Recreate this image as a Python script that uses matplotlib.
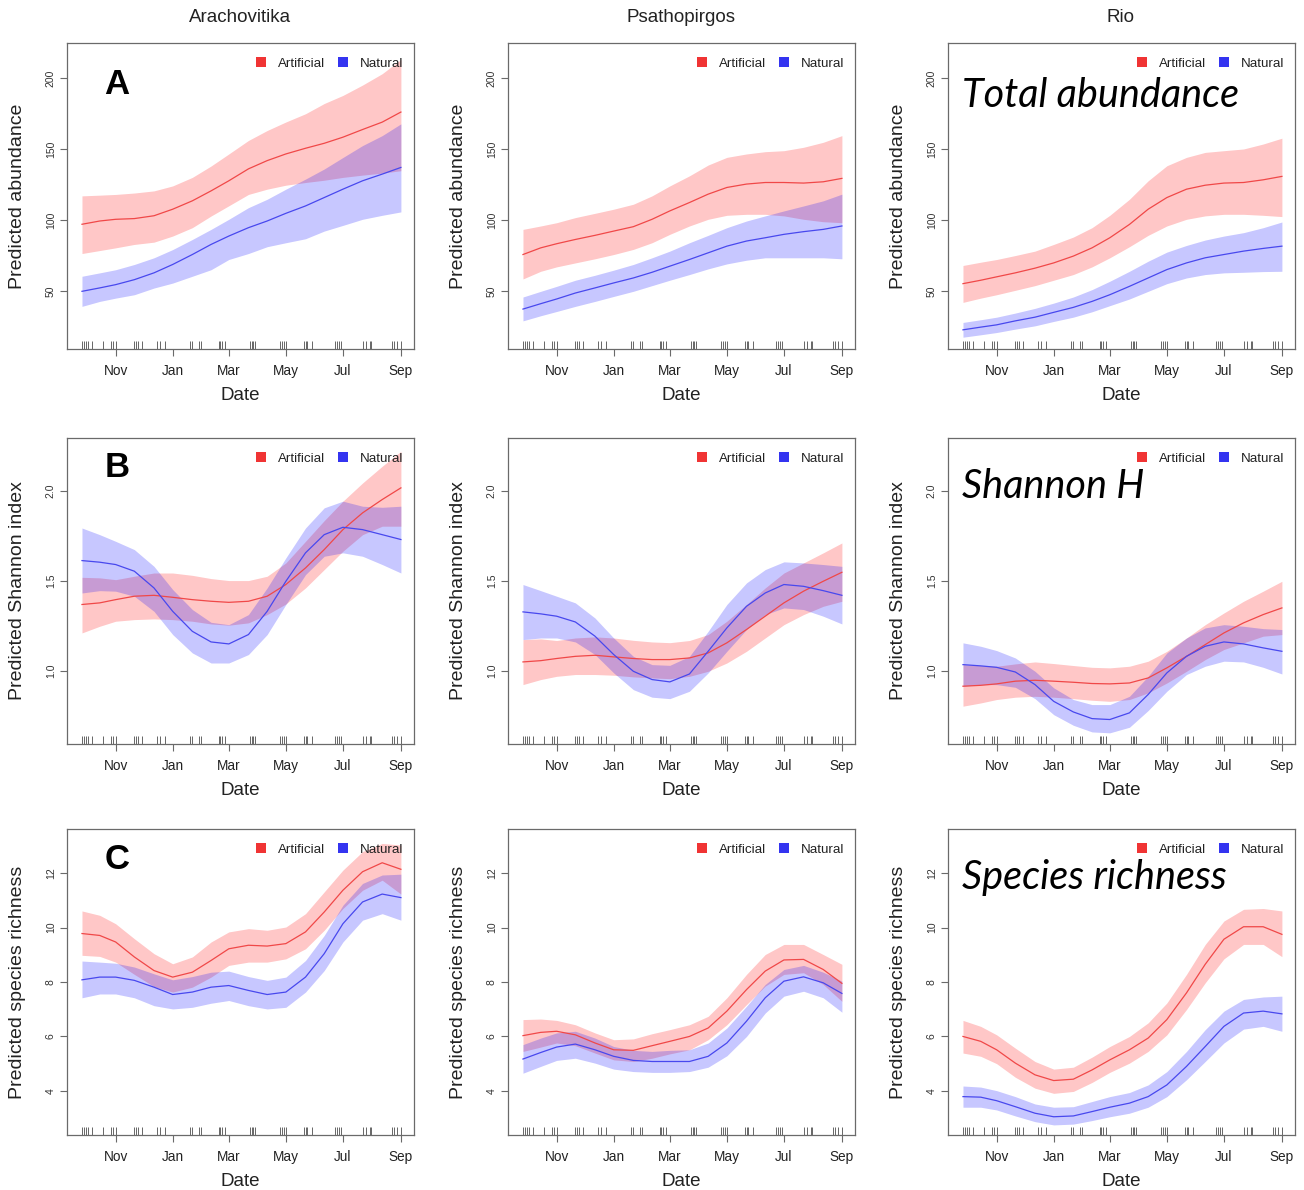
import numpy as np
import pandas as pd
import matplotlib
matplotlib.use("Agg")
import matplotlib.pyplot as plt
import matplotlib.dates as mdates
from matplotlib.patches import Patch

# ---------------- data ----------------
dates = pd.to_datetime([
    "2015-09-26", "2015-10-15", "2015-11-01", "2015-11-21", "2015-12-12",
    "2016-01-01", "2016-01-22", "2016-02-11", "2016-03-01", "2016-03-22",
    "2016-04-11", "2016-05-01", "2016-05-22", "2016-06-11", "2016-07-01",
    "2016-07-22", "2016-08-12", "2016-09-01"])

rug_dates = pd.to_datetime([
    "2015-09-26", "2015-09-28", "2015-09-30", "2015-10-02", "2015-10-07",
    "2015-10-18", "2015-10-27", "2015-10-29", "2015-11-01",
    "2015-11-21", "2015-11-23", "2015-11-25", "2015-11-29",
    "2015-12-15", "2015-12-18", "2015-12-24",
    "2016-01-20", "2016-01-22", "2016-01-29", "2016-01-31",
    "2016-02-19", "2016-02-21", "2016-02-23", "2016-02-26",
    "2016-03-24", "2016-03-26", "2016-03-27", "2016-03-29",
    "2016-04-25", "2016-04-27", "2016-04-29", "2016-05-01",
    "2016-05-20", "2016-05-22", "2016-05-24", "2016-05-29",
    "2016-06-23", "2016-06-25", "2016-06-27", "2016-06-29",
    "2016-07-23", "2016-07-26", "2016-07-30", "2016-07-31",
    "2016-08-23", "2016-08-25", "2016-08-28", "2016-09-01"])

sites = ["Arachovitika", "Psathopirgos", "Rio"]
groups = ["Artificial", "Natural"]
y_labels = ["Predicted abundance", "Predicted Shannon index", "Predicted species richness"]
panel_letters = ["A", "B", "C"]
metric_titles = ["Total abundance", "Shannon H", "Species richness"]
y_ticks = [[50, 100, 150, 200], [1.0, 1.5, 2.0], [4, 6, 8, 10, 12]]
y_ticklabels = [["50", "100", "150", "200"], ["1.0", "1.5", "2.0"], ["4", "6", "8", "10", "12"]]

# --- Total abundance ---
abund_arach_art = [97, 99.3, 100.5, 101, 103, 107.6, 113.5, 120.5, 127.6, 136, 141.8, 146.5, 150.5, 154, 158.3, 163.7, 168.9, 176]
abund_arach_art_hi = [117, 117.5, 118, 119, 120.5, 124, 130, 138, 146.5, 156, 163, 169, 174.8, 182, 187.7, 195, 203, 213]
abund_arach_art_lo = [76.4, 78.5, 80.4, 82.8, 84.4, 88.7, 94.6, 102.8, 110, 118, 121.7, 124.5, 126.4, 128, 130, 131.6, 133, 134.7]
abund_arach_nat = [49.8, 52.2, 54.5, 58, 62.8, 68.7, 75.7, 82.8, 88.7, 94.6, 99.3, 104.7, 109.9, 115.8, 121.7, 127.6, 132.3, 137]
abund_arach_nat_hi = [60.4, 62.8, 65, 68.7, 73.4, 79.2, 86.3, 93.4, 100.5, 108.7, 114.6, 121.7, 128.8, 135.9, 144, 152.4, 159.4, 167.7]
abund_arach_nat_lo = [39.2, 42.7, 45, 47.4, 52.1, 55.6, 60.4, 65, 72.2, 76.4, 81.2, 84, 86.8, 92.2, 96.2, 100.5, 103.3, 105.7]

abund_psath_art = [75.7, 80.4, 83.3, 86.3, 89.2, 92.2, 95.3, 100.5, 106.4, 112.3, 118.2, 122.9, 125.3, 126.4, 126.4, 126, 126.9, 129.3]
abund_psath_art_hi = [93.4, 95.8, 98.1, 101.7, 104.7, 107.6, 111.1, 117, 124, 131.1, 138.7, 144.1, 146.5, 148.1, 148.8, 151.2, 154.7, 159.4]
abund_psath_art_lo = [58.5, 63.9, 67, 69.8, 72.7, 75.7, 79.3, 84, 89.9, 95.8, 100.5, 103.3, 104, 104, 102.9, 100.5, 98.8, 98.1]
abund_psath_nat = [37.3, 41.1, 44.4, 48.6, 52.2, 55.7, 59.2, 63.2, 67.5, 72.2, 76.9, 81.6, 85.2, 87.5, 89.9, 91.8, 93.4, 95.8]
abund_psath_nat_hi = [45.8, 49.8, 53.3, 57.6, 61.1, 64.7, 68.7, 73.4, 78.1, 84, 89.2, 94.6, 99.3, 102.9, 106.4, 109.9, 113.5, 118.2]
abund_psath_nat_lo = [29, 32.6, 35.6, 39.2, 42.7, 46.2, 49.8, 53.8, 57.6, 61.6, 65.6, 69.1, 71.7, 73.4, 73.4, 73.4, 73.4, 72.7]

abund_rio_art = [55.2, 57.6, 60, 62.8, 66.1, 69.8, 74.6, 80.4, 87.5, 96.9, 107.6, 115.8, 121.7, 124.5, 126, 126.4, 128.3, 130.7]
abund_rio_art_hi = [68, 70.3, 72.2, 75, 78.1, 82.8, 88, 94.6, 103.3, 114.6, 127.6, 138.2, 144.1, 147.6, 148.8, 150, 153.5, 157.6]
abund_rio_art_lo = [42, 45, 47.4, 50.5, 53.8, 57.6, 61.6, 67, 73.4, 81.2, 89.2, 95.8, 100.5, 102.9, 104, 104, 103.3, 102.4]
abund_rio_nat = [22.7, 24.6, 26.2, 29, 31.6, 35, 38.5, 42.7, 47.4, 53.3, 59.2, 65.1, 69.8, 73.4, 75.7, 78.1, 80, 81.6]
abund_rio_nat_hi = [27.9, 29.8, 31.6, 34.5, 37.8, 41.5, 45.8, 51, 56.9, 63.9, 71, 77.4, 82.1, 85.9, 88.7, 91.1, 94.6, 98.6]
abund_rio_nat_lo = [17.5, 19.2, 20.8, 23.2, 25.5, 28.6, 31.6, 35.4, 39.7, 44.4, 49.8, 55.2, 59.2, 61.6, 62.8, 63.2, 63.7, 63.9]

# --- Shannon index ---
shan_arach_art = [1.369, 1.378, 1.396, 1.415, 1.420, 1.409, 1.396, 1.387, 1.381, 1.387, 1.415, 1.480, 1.572, 1.674, 1.785, 1.878, 1.952, 2.017]
shan_arach_art_hi = [1.520, 1.517, 1.507, 1.526, 1.544, 1.544, 1.531, 1.513, 1.502, 1.502, 1.526, 1.600, 1.720, 1.835, 1.943, 2.044, 2.137, 2.220]
shan_arach_art_lo = [1.211, 1.248, 1.276, 1.285, 1.289, 1.285, 1.276, 1.261, 1.254, 1.267, 1.313, 1.372, 1.461, 1.563, 1.665, 1.757, 1.804, 1.804]
shan_arach_nat = [1.613, 1.604, 1.591, 1.554, 1.461, 1.331, 1.220, 1.161, 1.150, 1.202, 1.331, 1.498, 1.656, 1.757, 1.798, 1.785, 1.757, 1.730]
shan_arach_nat_hi = [1.794, 1.757, 1.720, 1.674, 1.581, 1.452, 1.341, 1.270, 1.257, 1.313, 1.461, 1.628, 1.794, 1.906, 1.943, 1.915, 1.909, 1.915]
shan_arach_nat_lo = [1.433, 1.446, 1.443, 1.415, 1.331, 1.202, 1.100, 1.044, 1.044, 1.091, 1.202, 1.369, 1.535, 1.637, 1.656, 1.637, 1.591, 1.544]

shan_psath_art = [1.050, 1.057, 1.069, 1.081, 1.087, 1.078, 1.069, 1.063, 1.063, 1.072, 1.100, 1.156, 1.230, 1.304, 1.378, 1.443, 1.498, 1.548]
shan_psath_art_hi = [1.174, 1.178, 1.169, 1.183, 1.189, 1.183, 1.170, 1.161, 1.157, 1.169, 1.202, 1.276, 1.369, 1.461, 1.544, 1.600, 1.656, 1.711]
shan_psath_art_lo = [0.924, 0.952, 0.970, 0.980, 0.980, 0.976, 0.967, 0.961, 0.957, 0.970, 0.998, 1.044, 1.109, 1.183, 1.257, 1.313, 1.359, 1.387]
shan_psath_nat = [1.328, 1.317, 1.304, 1.272, 1.193, 1.091, 0.998, 0.952, 0.939, 0.983, 1.109, 1.239, 1.359, 1.433, 1.480, 1.470, 1.446, 1.420]
shan_psath_nat_hi = [1.480, 1.446, 1.415, 1.378, 1.294, 1.183, 1.081, 1.035, 1.031, 1.081, 1.220, 1.369, 1.489, 1.563, 1.606, 1.600, 1.591, 1.581]
shan_psath_nat_lo = [1.174, 1.183, 1.183, 1.161, 1.091, 0.989, 0.896, 0.854, 0.846, 0.887, 0.989, 1.109, 1.230, 1.313, 1.350, 1.341, 1.304, 1.261]

shan_rio_art = [0.915, 0.920, 0.928, 0.943, 0.948, 0.943, 0.937, 0.930, 0.928, 0.933, 0.961, 1.017, 1.081, 1.146, 1.211, 1.267, 1.313, 1.350]
shan_rio_art_hi = [1.035, 1.030, 1.026, 1.039, 1.050, 1.041, 1.030, 1.020, 1.017, 1.026, 1.054, 1.109, 1.183, 1.257, 1.322, 1.387, 1.443, 1.498]
shan_rio_art_lo = [0.804, 0.822, 0.841, 0.854, 0.859, 0.854, 0.846, 0.837, 0.831, 0.841, 0.878, 0.933, 0.998, 1.063, 1.119, 1.156, 1.193, 1.202]
shan_rio_nat = [1.035, 1.028, 1.020, 0.994, 0.924, 0.831, 0.772, 0.735, 0.730, 0.767, 0.869, 0.989, 1.081, 1.137, 1.161, 1.150, 1.128, 1.109]
shan_rio_nat_hi = [1.156, 1.137, 1.113, 1.072, 0.998, 0.906, 0.841, 0.813, 0.813, 0.859, 0.970, 1.100, 1.183, 1.239, 1.257, 1.248, 1.235, 1.230]
shan_rio_nat_lo = [0.915, 0.924, 0.924, 0.909, 0.846, 0.757, 0.698, 0.661, 0.656, 0.687, 0.780, 0.887, 0.980, 1.026, 1.054, 1.050, 1.020, 0.983]

# --- Species richness ---
rich_arach_art = [9.78, 9.71, 9.47, 8.92, 8.42, 8.18, 8.36, 8.79, 9.22, 9.35, 9.32, 9.41, 9.84, 10.57, 11.37, 12.05, 12.38, 12.14]
rich_arach_art_hi = [10.61, 10.45, 10.14, 9.59, 9.04, 8.67, 8.92, 9.47, 9.84, 9.96, 9.90, 10.02, 10.51, 11.31, 12.11, 12.79, 13.09, 13.03]
rich_arach_art_lo = [8.98, 8.94, 8.73, 8.28, 7.83, 7.63, 7.81, 8.18, 8.61, 8.73, 8.73, 8.85, 9.22, 9.90, 10.70, 11.37, 11.74, 11.23]
rich_arach_nat = [8.08, 8.18, 8.18, 8.06, 7.81, 7.54, 7.63, 7.81, 7.87, 7.69, 7.54, 7.63, 8.18, 9.04, 10.14, 10.94, 11.23, 11.10]
rich_arach_nat_hi = [8.77, 8.73, 8.69, 8.55, 8.30, 8.08, 8.20, 8.36, 8.40, 8.20, 8.06, 8.18, 8.79, 9.71, 10.82, 11.62, 11.93, 11.96]
rich_arach_nat_lo = [7.42, 7.56, 7.56, 7.42, 7.13, 7.01, 7.07, 7.22, 7.32, 7.13, 7.01, 7.07, 7.63, 8.42, 9.47, 10.27, 10.51, 10.27]

rich_psath_art = [6.03, 6.15, 6.19, 6.06, 5.76, 5.51, 5.49, 5.66, 5.82, 6.00, 6.31, 6.93, 7.72, 8.40, 8.81, 8.83, 8.46, 7.95]
rich_psath_art_hi = [6.62, 6.64, 6.59, 6.43, 6.13, 5.88, 5.91, 6.10, 6.25, 6.43, 6.74, 7.42, 8.28, 9.01, 9.38, 9.38, 9.01, 8.65]
rich_psath_art_lo = [5.45, 5.61, 5.76, 5.66, 5.39, 5.14, 5.08, 5.20, 5.36, 5.51, 5.88, 6.43, 7.17, 7.85, 8.28, 8.34, 7.91, 7.29]
rich_psath_nat = [5.17, 5.41, 5.61, 5.72, 5.51, 5.27, 5.12, 5.08, 5.08, 5.08, 5.27, 5.76, 6.56, 7.42, 8.03, 8.19, 7.97, 7.58]
rich_psath_nat_hi = [5.70, 5.94, 6.13, 6.19, 5.94, 5.63, 5.49, 5.45, 5.49, 5.51, 5.76, 6.31, 7.11, 7.91, 8.46, 8.61, 8.36, 8.03]
rich_psath_nat_lo = [4.65, 4.90, 5.12, 5.20, 5.02, 4.80, 4.71, 4.68, 4.68, 4.71, 4.87, 5.29, 6.00, 6.86, 7.48, 7.66, 7.42, 6.89]

rich_rio_art = [6.00, 5.82, 5.51, 5.02, 4.59, 4.38, 4.43, 4.77, 5.14, 5.51, 5.94, 6.62, 7.60, 8.65, 9.57, 10.03, 10.03, 9.75]
rich_rio_art_hi = [6.59, 6.37, 6.06, 5.57, 5.08, 4.80, 4.87, 5.24, 5.63, 6.00, 6.50, 7.23, 8.28, 9.38, 10.24, 10.67, 10.70, 10.61]
rich_rio_art_lo = [5.39, 5.27, 5.00, 4.50, 4.10, 3.91, 3.98, 4.31, 4.68, 5.02, 5.45, 6.06, 6.99, 7.97, 8.85, 9.38, 9.38, 8.93]
rich_rio_nat = [3.79, 3.77, 3.64, 3.42, 3.18, 3.05, 3.08, 3.24, 3.40, 3.55, 3.79, 4.22, 4.90, 5.63, 6.37, 6.86, 6.93, 6.83]
rich_rio_nat_hi = [4.18, 4.14, 4.01, 3.79, 3.52, 3.40, 3.42, 3.61, 3.79, 3.94, 4.22, 4.71, 5.45, 6.25, 6.93, 7.36, 7.45, 7.48]
rich_rio_nat_lo = [3.40, 3.40, 3.30, 3.08, 2.87, 2.75, 2.78, 2.91, 3.05, 3.18, 3.40, 3.79, 4.41, 5.08, 5.76, 6.27, 6.37, 6.19]

# panel table built from the named lists: [row][col] -> (art fit, lo, hi, nat fit, lo, hi)
panels = [
    [(abund_arach_art, abund_arach_art_lo, abund_arach_art_hi, abund_arach_nat, abund_arach_nat_lo, abund_arach_nat_hi),
     (abund_psath_art, abund_psath_art_lo, abund_psath_art_hi, abund_psath_nat, abund_psath_nat_lo, abund_psath_nat_hi),
     (abund_rio_art, abund_rio_art_lo, abund_rio_art_hi, abund_rio_nat, abund_rio_nat_lo, abund_rio_nat_hi)],
    [(shan_arach_art, shan_arach_art_lo, shan_arach_art_hi, shan_arach_nat, shan_arach_nat_lo, shan_arach_nat_hi),
     (shan_psath_art, shan_psath_art_lo, shan_psath_art_hi, shan_psath_nat, shan_psath_nat_lo, shan_psath_nat_hi),
     (shan_rio_art, shan_rio_art_lo, shan_rio_art_hi, shan_rio_nat, shan_rio_nat_lo, shan_rio_nat_hi)],
    [(rich_arach_art, rich_arach_art_lo, rich_arach_art_hi, rich_arach_nat, rich_arach_nat_lo, rich_arach_nat_hi),
     (rich_psath_art, rich_psath_art_lo, rich_psath_art_hi, rich_psath_nat, rich_psath_nat_lo, rich_psath_nat_hi),
     (rich_rio_art, rich_rio_art_lo, rich_rio_art_hi, rich_rio_nat, rich_rio_nat_lo, rich_rio_nat_hi)],
]

# ---------------- style ----------------
plt.rcParams['font.family'] = ['Liberation Sans', 'DejaVu Sans']
W, H = 1304, 1190
fig = plt.figure(figsize=(W / 100, H / 100), dpi=100)
fig.patch.set_facecolor("white")

col_left = [67, 508, 948]
row_top = [43, 438, 829]
box_w, box_h = 347, 306
ylims = [(9.2, 224.6), (0.594, 2.294), (2.38, 13.62)]
xlim = (pd.Timestamp("2015-09-10"), pd.Timestamp("2016-09-15"))

red_band = (1.0, 0.0, 0.0, 0.22)
blue_band = (0.0, 0.0, 1.0, 0.22)
red_line = "#F04848"
blue_line = "#4848EE"
frame_col = "#6a6a6a"

for r in range(3):
    for c in range(3):
        ax = fig.add_axes([col_left[c] / W, 1 - (row_top[r] + box_h) / H, box_w / W, box_h / H])
        afit, alo, ahi, nfit, nlo, nhi = panels[r][c]
        ax.fill_between(dates, alo, ahi, color=red_band, lw=0)
        ax.fill_between(dates, nlo, nhi, color=blue_band, lw=0)
        ax.plot(dates, afit, color=red_line, lw=0.9)
        ax.plot(dates, nfit, color=blue_line, lw=0.9)
        ax.vlines(rug_dates, 0.0, 0.025, transform=ax.get_xaxis_transform(),
                  color="#666666", lw=0.7)
        ax.set_xlim(*xlim)
        ax.set_ylim(*ylims[r])

        ax.xaxis.set_major_locator(mdates.MonthLocator(bymonth=[11, 1, 3, 5, 7, 9]))
        ax.xaxis.set_major_formatter(mdates.DateFormatter('%b'))
        ax.set_yticks(y_ticks[r])
        ax.set_yticklabels(y_ticklabels[r], rotation=90, va='center', fontsize=7.5, color="#333333")
        ax.tick_params(axis='x', length=5, width=0.8, color=frame_col, labelsize=9.8,
                       pad=5.5, labelcolor="#222222")
        ax.tick_params(axis='y', length=5, width=0.8, color=frame_col, pad=3)
        for s in ax.spines.values():
            s.set_color(frame_col)
            s.set_linewidth(0.9)

        ax.set_xlabel("Date", fontsize=13.5, color="#222222", labelpad=7)
        ax.set_ylabel(y_labels[r], fontsize=14, color="#222222")
        ax.yaxis.set_label_coords(-0.118, 0.5)

        handles = [Patch(facecolor="#F03434", edgecolor="none"),
                   Patch(facecolor="#3434F0", edgecolor="none")]
        ax.legend(handles, groups, loc="upper right", bbox_to_anchor=(1.005, 0.993), ncol=2,
                  frameon=False, fontsize=9.6, handlelength=0.75, handleheight=0.75,
                  handletextpad=0.9, columnspacing=1.0, borderaxespad=0.5,
                  labelcolor="#222222")

        if c == 0:
            ax.text(0.107, [0.863, 0.905, 0.899][r], panel_letters[r], transform=ax.transAxes,
                    fontsize=25, fontweight="bold", va="center", ha="left", color="black")
        if c == 2:
            ax.text(0.04, [0.83, 0.84, 0.84][r], metric_titles[r], transform=ax.transAxes,
                    fontsize=28.5, fontstyle="italic", va="center", ha="left", color="black",
                    family=["Lato", "DejaVu Sans"])

col_centers = [240, 681, 1121]
for c in range(3):
    fig.text(col_centers[c] / W, 1 - 18 / H, sites[c], ha="center", va="center",
             fontsize=13.5, color="#222222")

fig.savefig("out.png", dpi=100, facecolor="white")
